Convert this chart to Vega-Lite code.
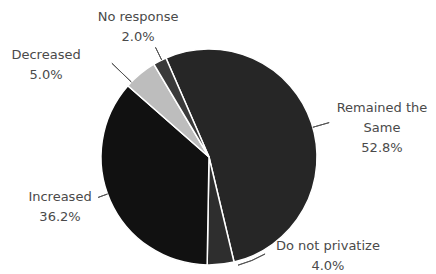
{
  "$schema": "https://vega.github.io/schema/vega-lite/v6.json",
  "width": 418,
  "height": 234,
  "autosize": "none",
  "padding": {"left": 0, "top": 40, "right": 18, "bottom": 0},
  "background": "white",
  "config": {"view": {"stroke": null}},
  "data": {
    "values": [
      {"category": "Remained the Same", "value": 52.8, "label": "Remained the\nSame\n52.8%", "order": 1},
      {"category": "Do not privatize", "value": 4.0, "label": "Do not privatize\n4.0%", "order": 2},
      {"category": "Increased", "value": 36.2, "label": "Increased\n36.2%", "order": 3},
      {"category": "Decreased", "value": 5.0, "label": "Decreased\n5.0%", "order": 4},
      {"category": "No response", "value": 2.0, "label": "No response\n2.0%", "order": 5}
    ]
  },
  "transform": [
    {"stack": "value", "groupby": [], "sort": [{"field": "order", "order": "ascending"}], "as": ["v0", "v1"]}
  ],
  "layer": [
    {
      "mark": {"type": "arc", "radius": 108, "stroke": "white", "strokeWidth": 1.5},
      "encoding": {
        "theta": {"field": "v0", "type": "quantitative", "scale": {"domain": [0, 100], "range": [-0.41, 5.873]}},
        "theta2": {"field": "v1"},
        "color": {
          "field": "category", "type": "nominal", "legend": null,
          "scale": {
            "domain": ["Remained the Same", "Do not privatize", "Increased", "Decreased", "No response"],
            "range": ["#262626", "#2e2e2e", "#111111", "#bdbdbd", "#3a3a3a"]
          }
        }
      }
    },
    {
      "transform": [{"filter": "datum.order == 1"}],
      "mark": {"type": "arc", "radius": 108, "radius2": 125, "thetaOffset": 1.702, "theta2Offset": 1.702, "fill": null, "stroke": "#555555", "strokeWidth": 1},
      "encoding": {"theta": {"field": "v0", "type": "quantitative"}, "theta2": {"field": "v0"}}
    },
    {
      "transform": [{"filter": "datum.order == 2"}],
      "mark": {"type": "arc", "radius": 112, "radius2": 112, "thetaOffset": -0.29, "theta2Offset": -0.028, "fill": null, "stroke": "#555555", "strokeWidth": 1},
      "encoding": {"theta": {"field": "v0", "type": "quantitative"}, "theta2": {"field": "v0"}}
    },
    {
      "transform": [{"filter": "datum.order == 3"}],
      "mark": {"type": "arc", "radius": 108, "radius2": 118, "thetaOffset": 1.204, "theta2Offset": 1.204, "fill": null, "stroke": "#555555", "strokeWidth": 1},
      "encoding": {"theta": {"field": "v0", "type": "quantitative"}, "theta2": {"field": "v0"}}
    },
    {
      "transform": [{"filter": "datum.order == 4"}],
      "mark": {"type": "arc", "radius": 108, "radius2": 135, "thetaOffset": 0.047, "theta2Offset": 0.047, "fill": null, "stroke": "#555555", "strokeWidth": 1},
      "encoding": {"theta": {"field": "v0", "type": "quantitative"}, "theta2": {"field": "v0"}}
    },
    {
      "transform": [{"filter": "datum.order == 5"}],
      "mark": {"type": "arc", "radius": 108, "radius2": 122, "thetaOffset": 0.082, "theta2Offset": 0.082, "fill": null, "stroke": "#555555", "strokeWidth": 1},
      "encoding": {"theta": {"field": "v0", "type": "quantitative"}, "theta2": {"field": "v0"}}
    },
    {
      "transform": [{"filter": "datum.order == 1"}],
      "mark": {"type": "text", "radius": 175.4, "thetaOffset": 1.815, "dy": -20, "lineBreak": "\n", "lineHeight": 20, "font": "DejaVu Sans", "fontSize": 13, "fill": "#4a4a4a", "align": "center", "baseline": "middle"},
      "encoding": {"theta": {"field": "v0", "type": "quantitative"}, "text": {"field": "label"}}
    },
    {
      "transform": [{"filter": "datum.order == 2"}],
      "mark": {"type": "text", "radius": 154.8, "thetaOffset": -0.642, "dy": -10, "lineBreak": "\n", "lineHeight": 20, "font": "DejaVu Sans", "fontSize": 13, "fill": "#4a4a4a", "align": "center", "baseline": "middle"},
      "encoding": {"theta": {"field": "v0", "type": "quantitative"}, "text": {"field": "label"}}
    },
    {
      "transform": [{"filter": "datum.order == 3"}],
      "mark": {"type": "text", "radius": 157.3, "thetaOffset": 1.227, "dy": -10, "lineBreak": "\n", "lineHeight": 20, "font": "DejaVu Sans", "fontSize": 13, "fill": "#4a4a4a", "align": "center", "baseline": "middle"},
      "encoding": {"theta": {"field": "v0", "type": "quantitative"}, "text": {"field": "label"}}
    },
    {
      "transform": [{"filter": "datum.order == 4"}],
      "mark": {"type": "text", "radius": 186.9, "thetaOffset": -0.209, "dy": -10, "lineBreak": "\n", "lineHeight": 20, "font": "DejaVu Sans", "fontSize": 13, "fill": "#4a4a4a", "align": "center", "baseline": "middle"},
      "encoding": {"theta": {"field": "v0", "type": "quantitative"}, "text": {"field": "label"}}
    },
    {
      "transform": [{"filter": "datum.order == 5"}],
      "mark": {"type": "text", "radius": 147.7, "thetaOffset": 0.035, "dy": -10, "lineBreak": "\n", "lineHeight": 20, "font": "DejaVu Sans", "fontSize": 13, "fill": "#4a4a4a", "align": "center", "baseline": "middle"},
      "encoding": {"theta": {"field": "v0", "type": "quantitative"}, "text": {"field": "label"}}
    }
  ]
}
